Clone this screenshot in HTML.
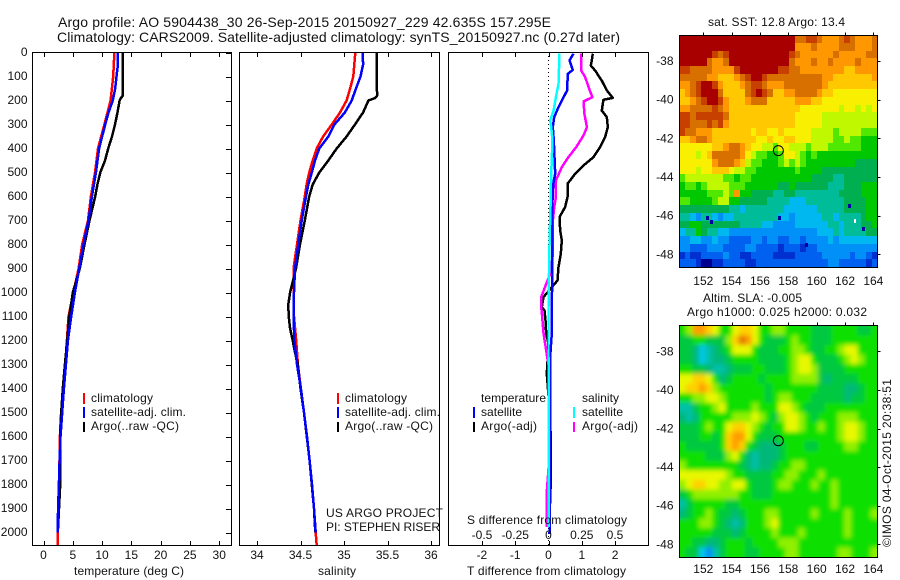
<!DOCTYPE html>
<html>
<head>
<meta charset="utf-8">
<title>Argo profile</title>
<style>
html,body{margin:0;padding:0;background:#fff;}
svg{display:block;}
text{font-family:"Liberation Sans",sans-serif;font-size:12px;fill:#111;}
</style>
</head>
<body>
<svg id="chart" width="900" height="580" viewBox="0 0 900 580" xmlns="http://www.w3.org/2000/svg">
  <defs>
    <clipPath id="clipT"><rect x="32" y="52" width="200" height="494"/></clipPath>
    <clipPath id="clipS"><rect x="239" y="52" width="201" height="494"/></clipPath>
    <clipPath id="clipD"><rect x="448" y="52" width="201" height="494"/></clipPath>
    <clipPath id="clipSla"><rect x="679" y="326" width="199" height="231"/></clipPath>
    <filter id="slaBlur" filterUnits="userSpaceOnUse" x="640" y="290" width="260" height="290"><feGaussianBlur stdDeviation="2.5"/></filter>
  </defs>

  <text x="58" y="27" style="font-size:14px" textLength="493">Argo profile: AO 5904438_30 26-Sep-2015 20150927_229 42.635S 157.295E</text>
  <text x="57" y="42" style="font-size:14px" textLength="563">Climatology: CARS2009. Satellite-adjusted climatology: synTS_20150927.nc (0.27d later)</text>

  <g id="panelT"></g>
  <g id="panelS"></g>
  <g id="panelD"></g>
  <g id="mapSst"></g>
  <g id="mapSla"></g>

  <text x="74" y="575" textLength="110">temperature (deg C)</text>
  <text x="318" y="575" textLength="38">salinity</text>
  <text x="467" y="575" textLength="159">T difference from climatology</text>
  <text x="467" y="524" textLength="160">S difference from climatology</text>

  <g>
    <rect x="83" y="393" width="2" height="11" fill="#f00"/>
    <rect x="83" y="407" width="2" height="11" fill="#00f"/>
    <rect x="83" y="422" width="2" height="10" fill="#000"/>
    <text x="91" y="402" textLength="62">climatology</text>
    <text x="91" y="416" textLength="95">satellite-adj. clim.</text>
    <text x="91" y="430" textLength="88">Argo(..raw -QC)</text>
  </g>
  <g>
    <rect x="337" y="393" width="2" height="11" fill="#f00"/>
    <rect x="337" y="407" width="2" height="11" fill="#00f"/>
    <rect x="337" y="422" width="2" height="10" fill="#000"/>
    <text x="345" y="402" textLength="62">climatology</text>
    <text x="345" y="416" textLength="95">satellite-adj. clim.</text>
    <text x="345" y="430" textLength="88">Argo(..raw -QC)</text>
    <text x="326" y="517" textLength="117">US ARGO PROJECT</text>
    <text x="326" y="531" textLength="114">PI: STEPHEN RISER</text>
  </g>
  <g>
    <text x="481" y="402" textLength="65">temperature</text>
    <text x="481" y="416" textLength="41">satellite</text>
    <text x="481" y="430" textLength="56">Argo(-adj)</text>
    <rect x="473" y="407" width="2" height="11" fill="#00f"/>
    <rect x="473" y="422" width="2" height="10" fill="#000"/>
    <text x="582" y="402" textLength="37">salinity</text>
    <text x="582" y="416" textLength="41">satellite</text>
    <text x="582" y="430" textLength="56">Argo(-adj)</text>
    <rect x="573" y="407" width="2" height="11" fill="#0ff"/>
    <rect x="573" y="422" width="2" height="10" fill="#f0f"/>
  </g>

  <text x="708" y="26" textLength="137">sat. SST: 12.8 Argo: 13.4</text>
  <text x="703" y="302" textLength="99">Altim. SLA: -0.005</text>
  <text x="687" y="316" textLength="180">Argo h1000: 0.025 h2000: 0.032</text>
  <text transform="translate(891,547) rotate(-90)" textLength="168">©IMOS 04-Oct-2015 20:38:51</text>
</svg>

<script>
// ---------- depth grids (dbar) ----------
const climDepth = [0,100,200,300,400,500,600,700,800,900,1000,1100,1200,1300,1400,1500,1600,1700,1800,1900,2000,2055];
const satDepth = [0,50,100,150,200,250,300,400,500,600,700,800,900,1000,1100,1200,1300,1400,1500,1600,1700,1800,1900,2000];
const argoTempDepth = [0,180,190,200,250,300,350,400,450,500,550,600,700,800,900,1000,1100,1200,1300,1400,1500,1600,1800,2000];
const climSalDepth = [0,100,150,200,250,300,350,400,450,500,550,600,700,800,900,1000,1100,1200,1300,1400,1500,1600,1700,1800,1900,2000,2055];
const satSalDepth = [0,50,100,150,200,250,300,350,400,450,500,550,600,700,800,900,1000,1100,1200,1300,1400,1500,1600,1700,1800,1900,2000];
const argoSalDepth = [0,100,180,190,200,250,300,350,400,450,500,550,600,700,800,900,1000,1050,1100,1150,1200,1250,1300,1400,1500,1700,1900,2000];

// ---------- temperature profiles (deg C) ----------
const tempClimatology = [12.1,11.9,11.45,10.4,9.3,8.8,8.1,7.6,6.6,6.0,5.1,4.27,4.0,3.7,3.4,3.0,2.8,2.73,2.63,2.5,2.4,2.4];
const tempSatellite = [12.64,12.7,12.47,12.24,11.84,11.1,10.53,9.5,8.95,8.26,7.68,6.83,6.1,5.36,4.73,4.16,3.82,3.48,3.19,2.9,2.75,2.63,2.5,2.4];
const tempArgo = [13.55,13.55,13.2,13.0,12.64,12.2,11.7,11.05,10.5,9.7,9.2,8.83,7.86,7.0,6.2,5.0,4.4,4.05,3.65,3.3,3.02,2.85,2.85,2.45];

// ---------- salinity profiles ----------
const salClimatology = [35.13,35.107,35.07,35.03,34.954,34.86,34.76,34.686,34.64,34.6,34.57,34.55,34.5,34.46,34.42,34.42,34.425,34.45,34.47,34.505,34.54,34.575,34.605,34.632,34.655,34.675,34.686];
const salSatellite = [35.215,35.22,35.19,35.138,35.088,35.01,34.89,34.82,34.716,34.667,34.63,34.59,34.563,34.514,34.475,34.437,34.425,34.42,34.43,34.46,34.505,34.54,34.575,34.605,34.632,34.655,34.675];
const salArgo = [35.376,35.376,35.38,35.356,35.28,35.22,35.126,35.03,34.916,34.82,34.716,34.64,34.6,34.55,34.494,34.448,34.38,34.36,34.364,34.38,34.41,34.437,34.47,34.5,34.54,34.605,34.655,34.67];

// ---------- differences from climatology ----------
const diffTSatDepth = [5,33,72,89,158,193,228,269,311,367,506,547,644,853,1061,1172,1228,1269,1450,2006];
const diffTSat = [0.75,0.63,0.73,0.58,0.56,0.43,0.3,0.17,0.13,0.16,0.2,0.14,0.11,0.12,0.1,0.1,0.07,0.05,0.05,0.03];
const diffTArgoDepth = [5,33,54,75,117,158,189,197,242,269,311,353,394,436,471,506,547,603,644,686,742,783,839,894,950,978,1019,1061,1075,1117,1172,1214,1339,1519,1631,1783,1978];
const diffTArgo = [1.33,1.3,1.27,1.4,1.6,1.75,1.93,1.65,1.6,1.75,1.78,1.7,1.55,1.35,1.05,0.8,0.57,0.57,0.5,0.33,0.35,0.4,0.37,0.3,0.27,0.1,-0.15,-0.2,-0.12,-0.09,-0.07,0,-0.05,0.05,0.07,0.07,0.02];
const diffSArgoDepth = [5,75,103,158,186,204,256,311,346,394,436,478,533,603,644,714,853,922,964,1019,1061,1089,1172,1242,1269,1339,1450,1728,1825,1978];
const diffSArgo = [0.246,0.246,0.276,0.31,0.33,0.263,0.27,0.289,0.263,0.208,0.15,0.1,0.056,0.056,0.043,0.03,0.03,0.013,-0.017,-0.055,-0.055,-0.05,-0.037,-0.017,-0.01,0.013,0.013,0.001,-0.012,-0.012];
const diffSSatDepth = [5,131,186,242,283,311,367,506,644,783,922,1061,1269,1450,1867,1978];
const diffSSat = [0.083,0.075,0.056,0.038,0.013,0.02,0.03,0.02,0.015,0.008,0.004,0,0,0,0,0];

// ---------- axis ticks ----------
const depthTicks = [0,100,200,300,400,500,600,700,800,900,1000,1100,1200,1300,1400,1500,1600,1700,1800,1900,2000];
const tempTicks = [0,5,10,15,20,25,30];
const salTicks = [34,34.5,35,35.5,36];
const salTickLabels = ['34','34.5','35','35.5','36'];
const diffTTicks = [-2,-1,0,1,2];
const diffTTickLabels = ['-2','-1','0','1','2'];
const diffSTicks = [-0.5,-0.25,0,0.25,0.5];
const diffSTickLabels = ['-0.5','-0.25','0','0.25','0.5'];
const lonTicks = [152,154,156,158,160,162,164];
const latTicks = [38,40,42,44,46,48];

// ---------- Argo position ----------
const argoLon = 157.295;
const argoLat = 42.635;

// ---------- SST map cells (colour level, north to south) ----------
const sstGrid = [
[15,15,15,15,15,15,15,15,15,15,15,15,15,15,15,15,15,15,15,15,15,13,13,14,14,13,12,12,12,13,14,13,12,12,12,13],
[15,15,15,15,15,15,15,15,15,15,15,15,15,15,15,15,15,15,15,15,15,12,12,12,13,12,12,12,12,13,13,13,12,12,12,13],
[15,15,15,15,15,15,14,13,14,15,15,15,15,15,15,15,15,15,15,15,14,13,12,12,12,12,12,12,13,12,12,12,12,12,13,13],
[15,15,15,15,15,13,12,12,13,15,15,15,15,15,15,15,15,15,15,15,13,12,12,12,13,12,12,13,12,12,12,12,13,12,12,12],
[14,14,13,13,13,13,12,12,12,12,14,15,15,15,15,15,15,15,14,14,13,13,12,12,12,12,12,12,12,12,11,11,12,12,12,12],
[13,13,13,13,13,12,12,11,11,11,12,13,14,15,15,14,13,13,13,13,13,13,13,13,13,13,12,12,11,11,11,11,11,11,11,12],
[12,12,13,14,15,15,14,12,11,11,11,12,13,14,14,13,12,12,12,13,13,13,13,13,13,13,12,11,11,11,11,11,11,11,11,11],
[11,12,13,14,15,15,15,13,11,11,11,11,13,14,15,14,13,11,11,12,12,13,13,13,13,12,11,11,10,10,10,10,10,10,10,10],
[11,11,12,13,14,15,15,14,12,11,11,11,12,13,13,13,11,11,11,11,11,12,12,12,11,11,10,10,10,10,10,10,10,10,10,10],
[12,12,13,13,13,13,14,13,12,11,11,11,11,11,11,11,11,11,11,11,11,11,10,10,10,10,10,10,10,9,10,10,9,10,9,10],
[14,14,13,14,14,14,14,14,13,11,11,11,11,11,11,11,11,11,11,11,11,10,10,10,10,10,9,9,9,9,9,9,9,9,9,9],
[14,14,13,13,13,14,13,14,12,11,11,11,11,11,11,11,11,11,11,11,11,10,10,10,10,10,9,9,9,9,9,9,9,9,9,9],
[14,13,13,12,12,12,11,11,11,11,11,11,11,10,11,11,10,10,11,10,10,10,10,10,9,9,9,9,8,9,9,9,9,8,8,8],
[11,11,12,13,13,12,11,11,11,11,11,11,11,11,10,10,11,10,10,11,11,10,10,10,9,9,9,9,8,8,9,8,8,7,7,7],
[10,10,10,10,10,10,11,11,12,13,13,12,11,10,10,9,9,8,10,10,9,9,9,8,9,9,9,8,8,8,8,8,8,7,7,7],
[10,10,10,9,10,11,13,13,13,13,13,12,10,9,8,8,7,7,8,10,10,9,8,7,8,7,7,7,7,7,7,7,7,7,7,7],
[10,10,10,10,10,10,12,13,13,13,12,11,9,8,8,7,7,7,8,9,8,9,8,7,7,7,7,7,7,7,7,7,6,6,6,6],
[10,10,10,9,10,10,11,11,11,10,9,9,8,8,7,7,7,7,7,7,7,8,7,7,7,7,6,6,6,6,6,6,6,6,6,6],
[8,9,9,9,9,9,9,9,8,8,7,8,8,7,7,7,7,7,7,7,7,7,7,7,6,6,6,6,5,5,6,6,6,6,6,6],
[7,8,8,7,8,9,9,9,9,8,8,8,7,7,7,7,7,7,6,6,7,6,6,6,6,6,6,5,5,5,6,6,6,7,7,7],
[7,7,7,7,7,8,8,8,9,8,12,7,7,6,6,6,6,5,5,6,6,5,5,5,5,5,5,5,5,6,6,6,6,7,7,7],
[8,8,7,7,7,7,8,9,9,7,7,6,6,6,6,6,5,5,5,5,4,4,4,5,5,5,5,5,5,5,6,6,6,6,7,7],
[6,6,6,6,6,6,6,6,6,5,5,4,5,5,5,5,5,5,5,4,4,4,4,4,4,5,5,5,5,5,6,6,6,6,7,7],
[5,5,4,3,5,5,4,3,4,4,5,5,5,5,5,5,5,5,4,4,3,4,4,4,4,4,5,5,4,5,5,5,5,6,7,7],
[6,6,7,7,6,6,6,6,6,6,6,5,5,5,5,4,4,3,3,3,3,4,4,4,4,4,4,5,5,4,5,5,5,6,6,7],
[4,5,5,7,6,5,5,4,4,3,3,3,3,3,3,3,3,3,3,3,3,3,3,3,3,4,4,4,5,4,5,5,5,5,6,6],
[3,3,4,4,3,3,4,3,3,2,2,2,2,3,3,2,3,3,2,2,3,3,2,3,3,3,3,4,3,4,4,4,4,4,4,4],
[3,3,2,2,2,3,3,3,2,2,2,2,3,3,2,2,2,2,1,2,2,2,1,2,2,3,3,3,3,3,3,3,3,3,3,3],
[1,2,1,1,2,2,2,2,3,2,2,1,1,2,2,2,2,1,1,1,1,2,2,2,2,2,3,3,3,3,3,2,3,3,2,1],
[2,2,2,1,0,0,1,1,2,2,2,2,1,1,2,2,2,2,2,2,2,2,2,2,2,2,2,3,3,2,2,2,2,2,1,2]
];

// isolated dark and missing pixels in the SST field
const sstSpeckLon = [162.2,163.2,152.5,152.2,157.3,159.2];
const sstSpeckLat = [45.4,46.6,46.2,46.0,46.0,47.4];
const sstMissingLon = [162.6];
const sstMissingLat = [46.17];

// ---------- SLA map cells (colour level, north to south) ----------
const slaGrid = [
[8,9,12,12,11,10,8,8,10,11,11,10,8,8,9,9,8,8,8,8,7,7,7,8,8,8,8,7,7,8],
[7,7,8,8,7,7,7,9,11,13,12,10,8,7,7,7,8,9,8,8,7,7,7,8,8,8,8,8,8,8],
[7,7,6,4,5,6,7,8,10,10,10,8,7,7,7,8,8,9,9,8,7,7,8,8,9,10,10,8,8,8],
[7,7,6,4,5,6,6,7,8,8,8,8,7,7,7,7,8,9,10,10,8,7,7,7,8,9,10,9,8,8],
[8,8,7,7,6,5,5,6,7,7,7,8,8,7,7,7,8,9,10,10,9,7,7,7,7,8,8,8,8,8],
[10,10,11,11,10,8,6,7,8,8,8,8,7,8,8,8,8,9,9,9,9,7,6,7,7,7,7,8,8,8],
[10,11,11,12,11,9,8,8,8,8,8,8,8,7,8,8,8,8,8,8,8,7,7,7,7,6,6,7,8,8],
[8,8,9,9,10,10,9,8,8,8,8,8,8,7,8,9,9,8,8,8,7,7,7,7,7,6,7,7,8,8],
[5,5,7,8,8,9,10,8,8,8,8,9,8,8,8,10,10,9,8,7,7,7,8,8,8,8,8,8,8,8],
[6,5,6,8,8,8,8,8,9,9,9,10,9,8,7,9,10,10,9,8,7,8,8,8,9,9,9,8,8,8],
[7,7,7,8,9,8,8,10,11,11,10,9,8,7,8,8,10,10,9,8,8,9,8,8,9,10,10,9,8,8],
[7,7,7,8,8,7,8,11,12,12,10,8,7,7,7,8,8,8,8,8,8,8,8,8,9,10,10,9,8,8],
[8,7,7,7,7,7,8,11,12,11,8,7,6,6,6,7,8,8,8,7,7,8,8,8,8,9,9,8,8,8],
[8,8,8,8,7,7,7,9,10,8,6,5,6,6,6,7,8,8,8,8,8,8,8,8,8,8,8,8,8,8],
[9,8,8,8,8,8,8,8,8,7,6,5,6,6,7,8,8,9,9,8,8,8,8,8,8,8,8,8,8,8],
[10,10,10,10,10,10,10,9,8,8,7,7,7,7,8,8,9,9,8,8,8,9,8,8,8,8,8,8,8,8],
[9,10,11,11,10,10,9,9,10,10,8,7,7,7,8,9,9,8,8,8,9,8,8,9,8,8,8,8,8,8],
[7,8,9,9,9,9,9,9,9,8,8,7,7,7,8,8,8,8,8,8,8,8,8,9,8,8,8,8,8,8],
[5,7,8,8,8,8,8,7,7,8,8,8,8,8,8,8,8,8,8,8,8,8,8,9,8,8,8,8,8,8],
[6,7,8,8,9,8,7,7,6,7,8,8,8,9,9,8,8,8,8,8,9,8,8,8,8,9,8,8,8,9],
[8,8,8,9,9,8,7,6,5,6,8,8,8,9,10,8,8,8,8,8,8,8,8,8,8,9,8,8,8,8],
[8,8,8,8,8,7,7,7,6,7,8,8,8,8,9,8,8,8,9,8,8,8,8,8,8,9,8,8,8,8],
[8,8,7,7,6,6,7,8,8,8,7,8,8,8,8,9,9,9,8,8,8,8,8,8,8,8,8,8,8,8],
[8,7,7,4,3,5,7,8,8,8,7,7,8,8,8,8,9,9,8,8,8,8,8,8,9,9,8,8,8,9]
];

// colour ramps (index = level)
const sstColours = ['#00008f','#0030d0','#0060f0','#0090f8','#00b8f0','#00bc98','#00b050','#00c800','#50e800','#c0f800','#f8f000','#ffc800','#ff9800','#d87000','#c84000','#a80000'];
const slaColours = ['#00008f','#0030d0','#0060f0','#0090f8','#00c8e8','#00c0a8','#00b878','#00c840','#10e000','#90f000','#e8f800','#ffd000','#ff9c00','#e07800','#c84000','#a80000'];

// ---------- axis functions ----------
const NS = 'http://www.w3.org/2000/svg';
function yDepth(d){return 52.5 + d*0.24;}
function xTemp(v){return 43.5 + v*5.857;}
function xSal(v){return 257 + (v-34)*87;}
function xDiffT(v){return 548.5 + v*33.3;}
function xDiffS(v){return 548.5 + v*133;}
function xLon(v){return 703.3 + (v-152)*14.17;}
function ySst(v){return 61 + (v-38)*19.33;}
function ySla(v){return 351.3 + (v-38)*19.3;}

function make(tag,attrs,parent){
  const el=document.createElementNS(NS,tag);
  for(const k in attrs){el.setAttribute(k,attrs[k]);}
  parent.appendChild(el);
  return el;
}
function makeLine(parent,x1,y1,x2,y2){
  const el=make('line',{x1:x1,y1:y1,x2:x2,y2:y2,stroke:'#000','stroke-width':1,'shape-rendering':'crispEdges'},parent);
  return el;
}
function makeLabel(parent,x,y,str,anchor){
  const el=make('text',{x:x,y:y,'text-anchor':anchor},parent);
  el.textContent=str;
  return el;
}
function drawProfile(parent,depths,values,xf,colour,width,name,clip){
  const pts=depths.map(function(d,i){return xf(values[i]).toFixed(1)+','+yDepth(d).toFixed(1);}).join(' ');
  const el=make('polyline',{points:pts,fill:'none',stroke:colour,'stroke-width':width,'clip-path':'url(#'+clip+')','stroke-linejoin':'round','shape-rendering':'crispEdges'},parent);
  
  
}
function drawFrame(parent,x0,x1){
  const el=make('rect',{x:x0,y:52.5,width:x1-x0,height:493,fill:'none',stroke:'#000','stroke-width':1,'shape-rendering':'crispEdges'},parent);
  
  
}
function drawXTicks(parent,ticks,labels,xf,labelY){
  ticks.forEach(function(t,i){
    const x=Math.round(xf(t))+0.5;
    const top=makeLine(parent,x,52,x,57);
    
    
    const bottom=makeLine(parent,x,541,x,546);
    
    
    const lab=makeLabel(parent,xf(t),labelY,labels[i],'middle');
    
    
  });
}

// ---------- temperature panel ----------
const pT=document.getElementById('panelT');
drawProfile(pT,climDepth,tempClimatology,xTemp,'#f00',2.5,'temperature-climatology-line','clipT');
drawProfile(pT,argoTempDepth,tempArgo,xTemp,'#000',2.5,'temperature-argo-line','clipT');
drawProfile(pT,satDepth,tempSatellite,xTemp,'#00f',2.5,'temperature-satellite-line','clipT');
drawFrame(pT,32.5,231.5);
drawXTicks(pT,tempTicks,tempTicks.map(String),xTemp,559);
depthTicks.forEach(function(d){
  const y=Math.round(yDepth(d))+0.5;
  const t=makeLine(pT,226,y,231,y);
  
  
  const lab=makeLabel(pT,27.5,yDepth(d)+3.5,String(d),'end');
  
  
});

// ---------- salinity panel ----------
const pS=document.getElementById('panelS');
drawProfile(pS,climSalDepth,salClimatology,xSal,'#f00',2.5,'salinity-climatology-line','clipS');
drawProfile(pS,argoSalDepth,salArgo,xSal,'#000',2.5,'salinity-argo-line','clipS');
drawProfile(pS,satSalDepth,salSatellite,xSal,'#00f',2.5,'salinity-satellite-line','clipS');
drawFrame(pS,239.5,439.5);
drawXTicks(pS,salTicks,salTickLabels,xSal,559);

// ---------- difference panel ----------
const pD=document.getElementById('panelD');
const zeroLine=make('line',{x1:xDiffT(0),y1:52,x2:xDiffT(0),y2:545,stroke:'#000','stroke-width':1,'stroke-dasharray':'1 3','shape-rendering':'crispEdges'},pD);


drawProfile(pD,diffTArgoDepth,diffTArgo,xDiffT,'#000',2.5,'t-diff-argo-line','clipD');
drawProfile(pD,diffSArgoDepth,diffSArgo,xDiffS,'#f0f',2.5,'s-diff-argo-line','clipD');
drawProfile(pD,diffTSatDepth,diffTSat,xDiffT,'#00f',2.5,'t-diff-satellite-line','clipD');
drawProfile(pD,diffSSatDepth,diffSSat,xDiffS,'#0ff',2.5,'s-diff-satellite-line','clipD');
drawFrame(pD,448.5,648.5);
drawXTicks(pD,diffTTicks,diffTTickLabels,xDiffT,559);
diffSTicks.forEach(function(t,i){
  const lab=makeLabel(pD,xDiffS(t),539,diffSTickLabels[i],'middle');
  
  
});

// ---------- maps ----------
function drawMapAxes(parent,yf,x0,x1,y0,y1,labelBase){
  lonTicks.forEach(function(v){
    const x=Math.round(xLon(v))+0.5;
    const t=makeLine(parent,x,y0-3,x,y0);
    
    
    const lab=makeLabel(parent,xLon(v),labelBase,String(v),'middle');
    
    
  });
  latTicks.forEach(function(v){
    const y=Math.round(yf(v))+0.5;
    const t=makeLine(parent,x1,y,x1+3,y);
    
    
    const lab=makeLabel(parent,673.5,yf(v)+4,'-'+v,'end');
    
    
  });
  const frame=make('rect',{x:x0,y:y0,width:x1-x0,height:y1-y0,fill:'none',stroke:'#000','stroke-width':1,'shape-rendering':'crispEdges'},parent);
  
  
}
function drawMarker(parent,yf){
  const c=make('circle',{cx:xLon(argoLon),cy:yf(argoLat),r:5,fill:'none',stroke:'#000','stroke-width':1},parent);
  
  
}

const mSst=document.getElementById('mapSst');
const sstLeft=150.3, sstRight=164.28, sstTop=36.66, sstBottom=48.66;
sstGrid.forEach(function(row,r){
  row.forEach(function(level,c){
    const x0=Math.round(xLon(sstLeft+(sstRight-sstLeft)*c/row.length));
    const x1=Math.round(xLon(sstLeft+(sstRight-sstLeft)*(c+1)/row.length));
    const y0=Math.round(ySst(sstTop+(sstBottom-sstTop)*r/sstGrid.length));
    const y1=Math.round(ySst(sstTop+(sstBottom-sstTop)*(r+1)/sstGrid.length));
    const cell=make('rect',{x:x0,y:y0,width:x1-x0,height:y1-y0,fill:sstColours[level],'shape-rendering':'crispEdges'},mSst);
    
    
  });
});
sstSpeckLon.forEach(function(lon,i){
  const speck=make('rect',{x:Math.round(xLon(lon)),y:Math.round(ySst(sstSpeckLat[i])),width:3,height:4,fill:'#0000a0','shape-rendering':'crispEdges'},mSst);
  
  
});
sstMissingLon.forEach(function(lon,i){
  const gap=make('rect',{x:Math.round(xLon(lon)),y:Math.round(ySst(sstMissingLat[i])),width:2,height:4,fill:'#fff','shape-rendering':'crispEdges'},mSst);
  
  
});
drawMarker(mSst,ySst);
drawMapAxes(mSst,ySst,679.5,877.5,35.5,267.5,285);

const mSla=document.getElementById('mapSla');
const slaClip=make('g',{'clip-path':'url(#clipSla)'},mSla);
const slaBlurGroup=make('g',{filter:'url(#slaBlur)'},slaClip);
const slaLeft=150.3, slaRight=164.28, slaTop=36.67, slaBottom=48.66;
slaGrid.forEach(function(row,r){
  row.forEach(function(level,c){
    let x0=xLon(slaLeft+(slaRight-slaLeft)*c/row.length);
    let x1=xLon(slaLeft+(slaRight-slaLeft)*(c+1)/row.length);
    let y0=ySla(slaTop+(slaBottom-slaTop)*r/slaGrid.length);
    let y1=ySla(slaTop+(slaBottom-slaTop)*(r+1)/slaGrid.length);
    if(c===0){x0-=14;}
    if(c===row.length-1){x1+=14;}
    if(r===0){y0-=14;}
    if(r===slaGrid.length-1){y1+=14;}
    const cell=make('rect',{x:x0,y:y0,width:x1-x0+0.6,height:y1-y0+0.6,fill:slaColours[level]},slaBlurGroup);
    
    
  });
});
drawMarker(mSla,ySla);
drawMapAxes(mSla,ySla,679.5,877.5,325.5,557.5,573);
</script>
</body>
</html>
